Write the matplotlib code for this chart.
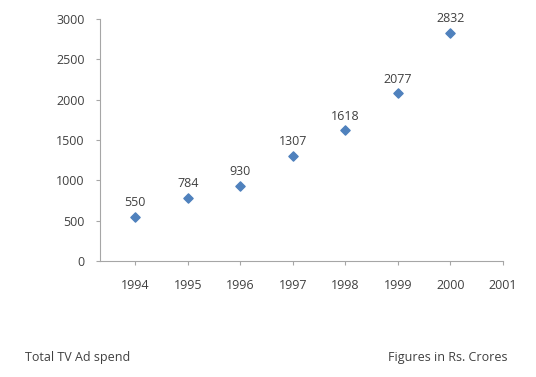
import matplotlib
matplotlib.use("Agg")
import matplotlib.pyplot as plt

years = [1994, 1995, 1996, 1997, 1998, 1999, 2000]
spend = [550, 784, 930, 1307, 1618, 2077, 2832]
xticks = [1994, 1995, 1996, 1997, 1998, 1999, 2000, 2001]
yticks = [0, 500, 1000, 1500, 2000, 2500, 3000]

plt.rcParams['font.family'] = ['Open Sans', 'DejaVu Sans']
fig = plt.figure(figsize=(5.36, 3.77), dpi=100)
ax = fig.add_axes([100/536, 1-261/377, 403/536, 242/377])

ax.scatter(years, spend, marker='D', s=22, color='#4F81BD', zorder=3)
for x, y in zip(years, spend):
    ax.annotate(str(y), (x, y), xytext=(0, 5.5), textcoords='offset points',
                ha='center', va='bottom', fontsize=9, color='#404040')

ax.set_xlim(1993.33, 2001)
ax.set_ylim(0, 3000)
ax.set_xticks(xticks)
ax.set_yticks(yticks)
ax.tick_params(axis='both', labelsize=9, labelcolor='#404040', color='#A6A6A6',
               length=3, width=0.8)
ax.tick_params(axis='x', pad=10)
ax.tick_params(axis='y', pad=8)
for s in ['top', 'right']:
    ax.spines[s].set_visible(False)
for s in ['left', 'bottom']:
    ax.spines[s].set_color('#A6A6A6')
    ax.spines[s].set_linewidth(0.8)

fig.text(25/536, 1-358/377, 'Total TV Ad spend', fontsize=9, color='#404040',
         ha='left', va='center')
fig.text(507/536, 1-358/377, 'Figures in Rs. Crores', fontsize=9, color='#404040',
         ha='right', va='center')

fig.savefig('out.png', dpi=100)
